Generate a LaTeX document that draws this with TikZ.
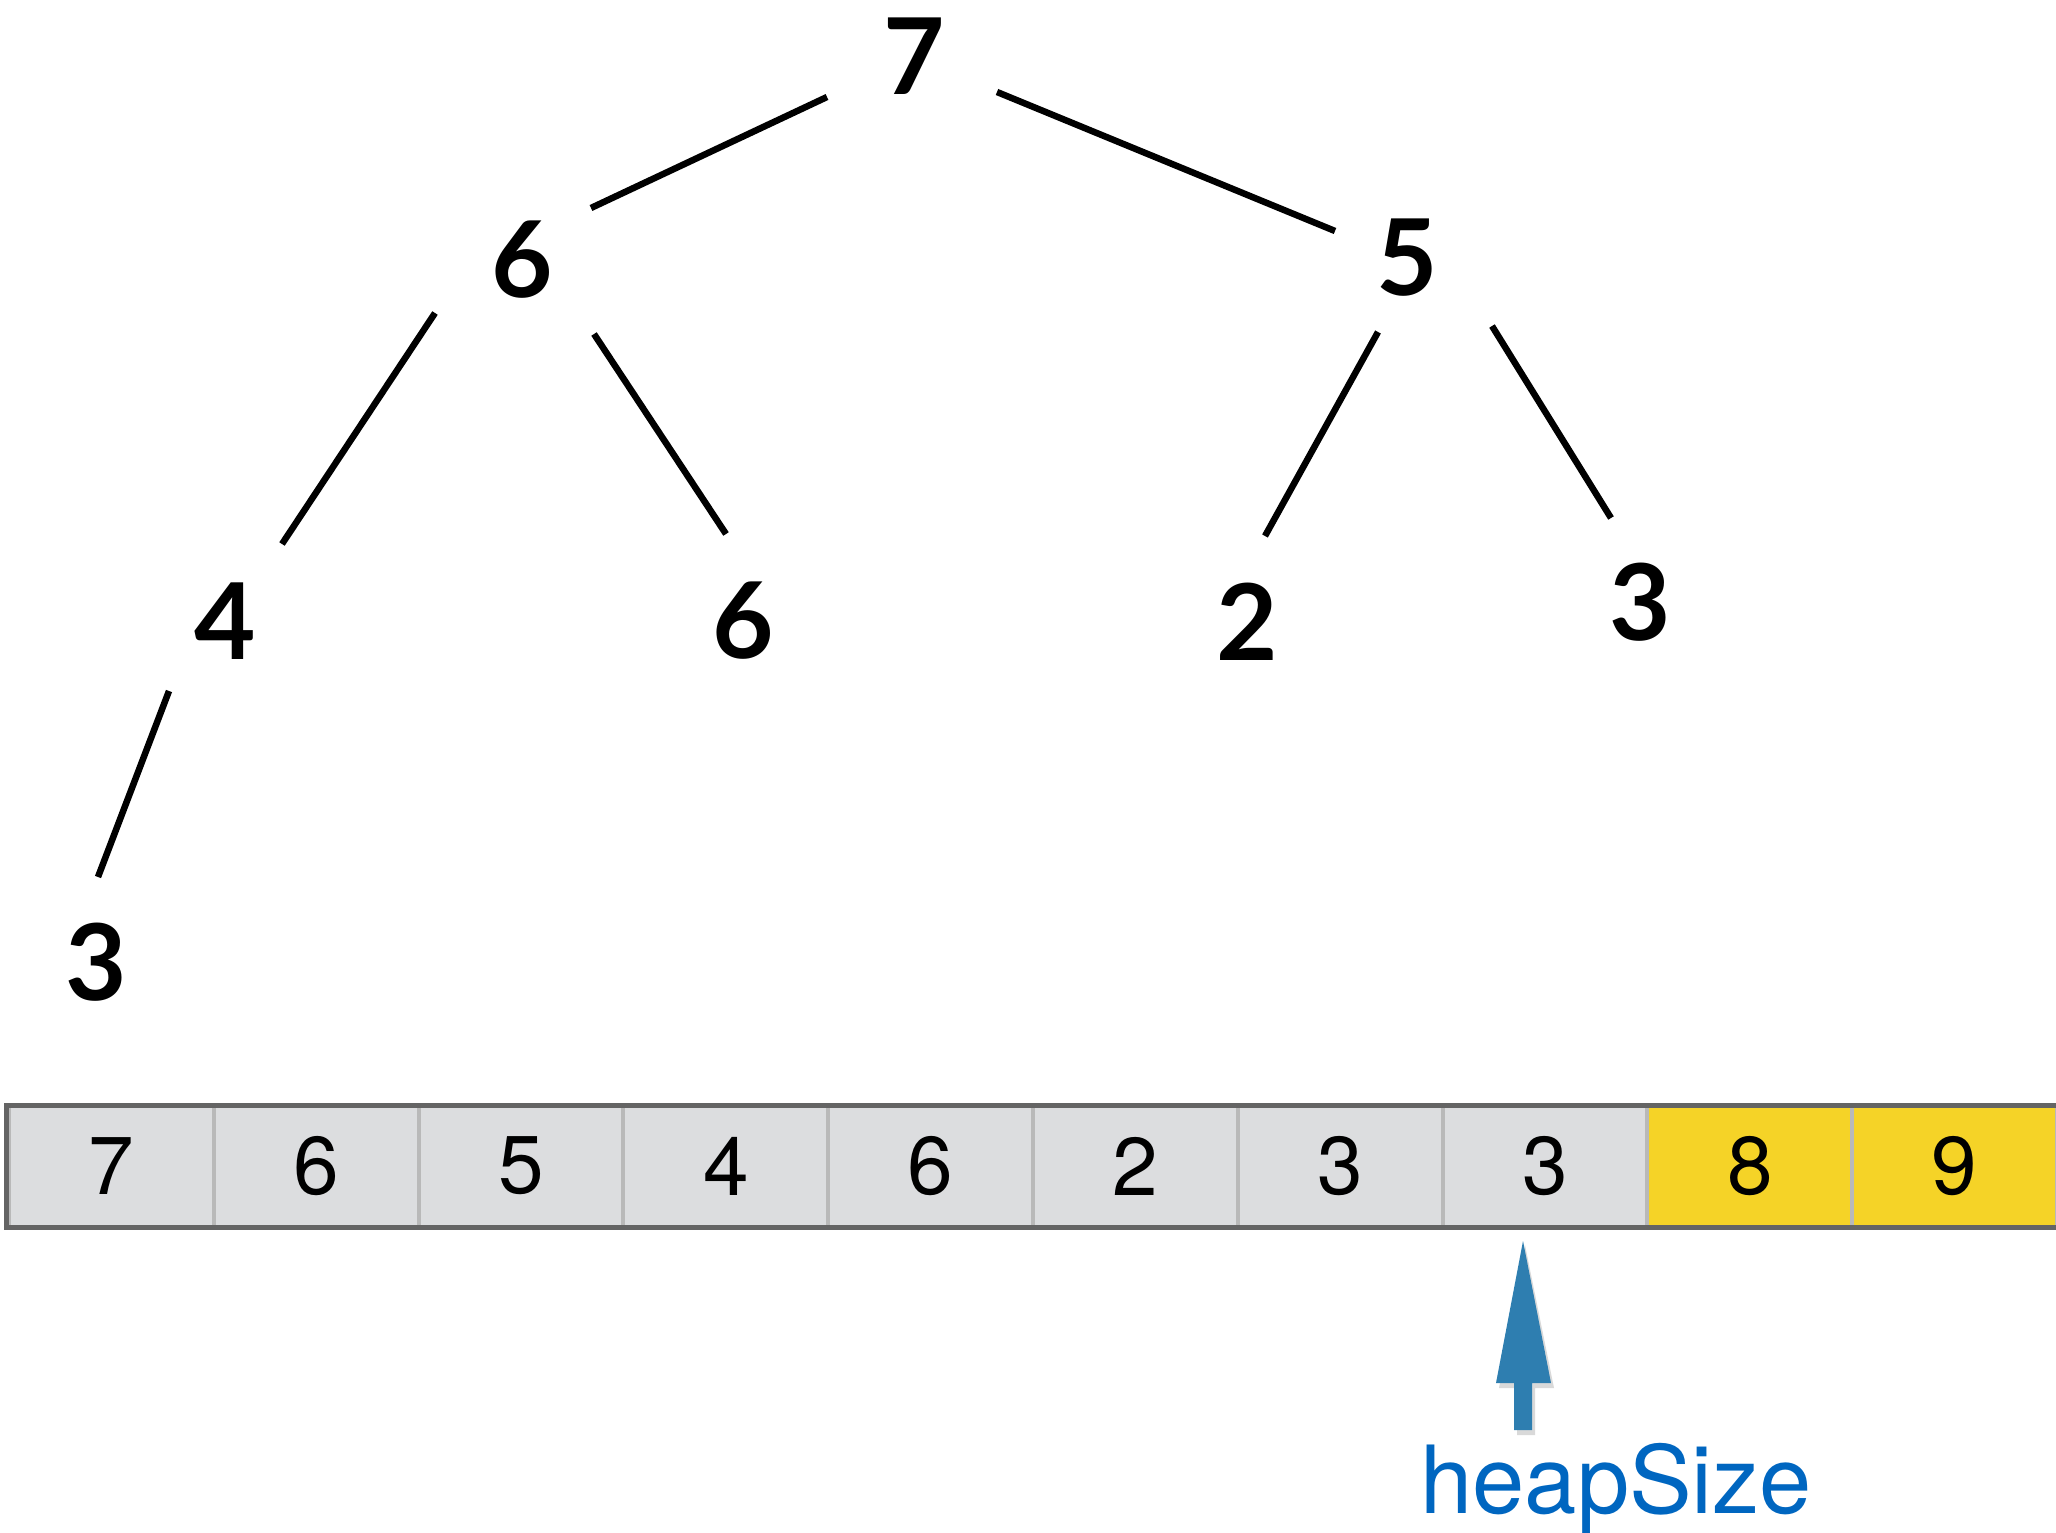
\documentclass[tikz,border=0pt]{standalone}
\usepackage{fontspec}
\setmainfont{TeX Gyre Heros}
\newfontfamily\treefont{Lato}
\definecolor{cellgray}{RGB}{220,221,223}
\definecolor{cellyellow}{RGB}{245,211,39}
\definecolor{divgray}{RGB}{185,185,185}
\definecolor{bordergray}{RGB}{100,100,100}
\definecolor{arrowblue}{RGB}{46,126,176}
\definecolor{textblue}{RGB}{0,102,192}
\begin{document}
\begin{tikzpicture}[x=1pt,y=-1pt,
  treenum/.style={inner sep=0pt,font=\treefont\bfseries\fontsize{106}{106}\selectfont},
  edge/.style={line width=6.5pt,black},
  cell/.style={draw=divgray,line width=4pt,minimum width=204.8pt,minimum height=122pt,inner sep=0pt,outer sep=0pt,font=\fontsize{82}{82}\selectfont},
  graycell/.style={cell,fill=cellgray},
  yellowcell/.style={cell,fill=cellyellow},
  outer/.style={draw=bordergray,line width=5pt}]
\useasboundingbox (0,0) rectangle (2056,1533);
% tree nodes
\node[treenum] (n7) at (914,56) {7};
\node[treenum] (n6a) at (522,260) {6};
\node[treenum] (n5) at (1407,258) {5};
\node[treenum] (n4) at (225,621) {4};
\node[treenum] (n6b) at (743,621) {6};
\node[treenum] (n2) at (1247,622) {2};
\node[treenum] (n3a) at (1640,602) {3};
\node[treenum] (n3b) at (96,962) {3};
% edge end points
\coordinate (e1a) at (827,97);   \coordinate (e1b) at (591,208);
\coordinate (e2a) at (997,92);   \coordinate (e2b) at (1335,231);
\coordinate (e3a) at (435,313);  \coordinate (e3b) at (282,544);
\coordinate (e4a) at (594,334);  \coordinate (e4b) at (726,534);
\coordinate (e5a) at (1378,332); \coordinate (e5b) at (1265,536);
\coordinate (e6a) at (1492,326); \coordinate (e6b) at (1611,518);
\coordinate (e7a) at (169,691);  \coordinate (e7b) at (98,877);
\draw[edge] (e1a) -- (e1b);
\draw[edge] (e2a) -- (e2b);
\draw[edge] (e3a) -- (e3b);
\draw[edge] (e4a) -- (e4b);
\draw[edge] (e5a) -- (e5b);
\draw[edge] (e6a) -- (e6b);
\draw[edge] (e7a) -- (e7b);
% array
\node[graycell] (c1) at (111.4,1166) {7};
\node[graycell] (c2) at (316.2,1166) {6};
\node[graycell] (c3) at (521.0,1166) {5};
\node[graycell] (c4) at (725.8,1166) {4};
\node[graycell] (c5) at (930.6,1166) {6};
\node[graycell] (c6) at (1135.4,1166) {2};
\node[graycell] (c7) at (1340.2,1166) {3};
\node[graycell] (c8) at (1545.0,1166) {3};
\node[yellowcell] (c9) at (1749.8,1166) {8};
\node[yellowcell] (c10) at (1954.6,1166) {9};
\coordinate (tl) at (6.5,1105);
\coordinate (bl) at (6.5,1227);
\coordinate (tr) at (2070,1105);
\coordinate (br) at (2070,1227);
\draw[outer] (tr) -- (tl) -- (bl) -- (br);
% arrow
\fill[black,opacity=0.15] (1525,1245) -- (1554,1388) -- (1535,1388) -- (1535,1435) -- (1517,1435) -- (1517,1388) -- (1499,1388) -- cycle;
\fill[arrowblue] (1523,1241) -- (1551,1383) -- (1532,1383) -- (1532,1430) -- (1514,1430) -- (1514,1383) -- (1496,1383) -- cycle;
% label
\node[anchor=base west,inner sep=0pt,text=textblue,font=\fontsize{94}{94}\selectfont] (hs) at (1420,1513) {heapSize};
\end{tikzpicture}
\end{document}
